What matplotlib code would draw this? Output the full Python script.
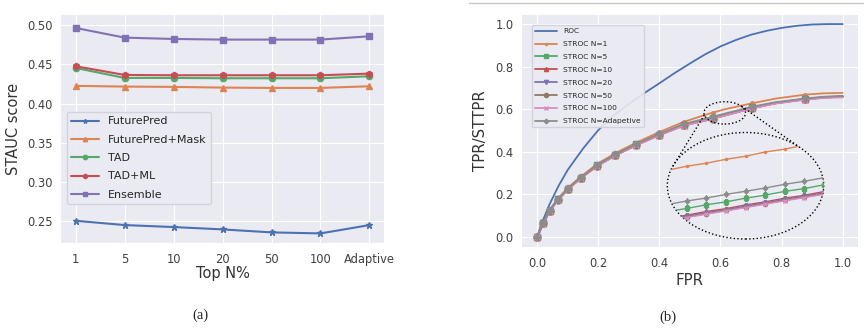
import numpy as np
import matplotlib
matplotlib.use("Agg")
import matplotlib.pyplot as plt
from matplotlib.patches import Ellipse
from matplotlib.lines import Line2D

# (a) STAUC score vs Top N%
top_n = ["1", "5", "10", "20", "50", "100", "Adaptive"]
future_pred = [0.2508, 0.2453, 0.2428, 0.2398, 0.2360, 0.2347, 0.2453]
future_pred_mask = [0.4225, 0.4216, 0.4212, 0.4203, 0.4199, 0.4199, 0.4220]
tad = [0.4453, 0.4326, 0.4326, 0.4322, 0.4322, 0.4322, 0.4347]
tad_ml = [0.4475, 0.4364, 0.4360, 0.4360, 0.4360, 0.4360, 0.4381]
ensemble = [0.4962, 0.4839, 0.4822, 0.4814, 0.4814, 0.4814, 0.4856]

# (b) ROC / STROC curves
roc_fpr = [0.0, 0.01, 0.02, 0.04, 0.07, 0.1, 0.15, 0.2, 0.25, 0.3, 0.35, 0.4, 0.45,
           0.5, 0.55, 0.6, 0.65, 0.7, 0.75, 0.8, 0.85, 0.9, 0.95, 1.0]
roc_tpr = [0.0, 0.045, 0.082, 0.152, 0.24, 0.315, 0.415, 0.502, 0.57, 0.625, 0.675, 0.722, 0.77,
           0.815, 0.858, 0.895, 0.925, 0.95, 0.968, 0.982, 0.992, 0.998, 1.0, 1.0]

stroc_fpr = [0.0, 0.02, 0.041, 0.069, 0.102, 0.143, 0.197, 0.256, 0.325, 0.398, 0.48,
             0.565, 0.57, 0.575, 0.58, 0.585, 0.59, 0.595, 0.60, 0.605, 0.61, 0.615,
             0.703, 0.78, 0.878, 0.94, 1.0]
stroc_n1 = [0, 0.069, 0.128, 0.183, 0.233, 0.284, 0.344, 0.394, 0.444, 0.492, 0.541,
            0.5805, 0.5823, 0.5846, 0.5863, 0.5885, 0.5902, 0.5926, 0.5942, 0.5965, 0.5983, 0.6004,
            0.628, 0.650, 0.669, 0.675, 0.677]
stroc_n5 = [0, 0.065, 0.124, 0.178, 0.228, 0.279, 0.337, 0.386, 0.435, 0.481, 0.528,
            0.5571, 0.5591, 0.5608, 0.5629, 0.5645, 0.5666, 0.5683, 0.5704, 0.5720, 0.5741, 0.5758,
            0.609, 0.631, 0.649, 0.657, 0.661]
stroc_n10 = [0, 0.065, 0.123, 0.177, 0.227, 0.278, 0.336, 0.385, 0.433, 0.479, 0.525,
             0.5533, 0.5553, 0.5570, 0.5591, 0.5607, 0.5628, 0.5645, 0.5666, 0.5682, 0.5703, 0.5720,
             0.606, 0.629, 0.648, 0.656, 0.660]
stroc_n20 = [0, 0.064, 0.123, 0.177, 0.227, 0.277, 0.335, 0.384, 0.432, 0.478, 0.524,
             0.5527, 0.5546, 0.5565, 0.5584, 0.5602, 0.5621, 0.5640, 0.5659, 0.5677, 0.5696, 0.5715,
             0.605, 0.628, 0.647, 0.655, 0.659]
stroc_n50 = [0, 0.064, 0.122, 0.176, 0.226, 0.277, 0.334, 0.384, 0.432, 0.478, 0.524,
             0.5522, 0.5540, 0.5560, 0.5578, 0.5597, 0.5615, 0.5635, 0.5653, 0.5672, 0.5690, 0.5710,
             0.605, 0.628, 0.647, 0.655, 0.659]
stroc_n100 = [0, 0.063, 0.121, 0.175, 0.225, 0.276, 0.333, 0.383, 0.431, 0.477, 0.523,
              0.5519, 0.5538, 0.5557, 0.5576, 0.5594, 0.5613, 0.5632, 0.5651, 0.5669, 0.5688, 0.5707,
              0.604, 0.627, 0.645, 0.653, 0.656]
stroc_adaptive = [0, 0.066, 0.125, 0.179, 0.229, 0.280, 0.338, 0.388, 0.437, 0.483, 0.531,
                  0.5611, 0.5630, 0.5650, 0.5667, 0.5687, 0.5705, 0.5723, 0.5744, 0.5761, 0.5781, 0.5799,
                  0.612, 0.633, 0.651, 0.659, 0.663]

# zoom: small marker ellipse, big inset ellipse (center x, center y, width, height), inset limits
zoom_src = (0.614, 0.583, 0.136, 0.105)
zoom_dst = (0.682, 0.241, 0.512, 0.500)
zoom_xlim = (0.570, 0.610)
zoom_ylim = (0.5436, 0.6036)

plt.style.use("seaborn-v0_8-darkgrid")
plt.rcParams["font.family"] = ["DejaVu Sans"]
c = {"blue": "#4C72B0", "orange": "#DD8452", "green": "#55A868", "red": "#C44E52",
     "purple": "#8172B3", "brown": "#937860", "pink": "#DA8BC3", "gray": "#8C8C8C"}

fig = plt.figure(figsize=(8.64, 3.29), dpi=100)
ax1 = fig.add_axes([0.0706, 0.2614, 0.374, 0.693])
ax2 = fig.add_axes([0.604, 0.249, 0.389, 0.705])

# ---- (a)
x = np.arange(len(top_n))
ax1.plot(x, future_pred, marker="*", ms=4.5, color=c["blue"], label="FuturePred")
ax1.plot(x, future_pred_mask, marker="^", ms=4.5, color=c["orange"], label="FuturePred+Mask")
ax1.plot(x, tad, marker="o", ms=4.5, color=c["green"], label="TAD")
ax1.plot(x, tad_ml, marker="h", ms=4.5, color=c["red"], label="TAD+ML")
ax1.plot(x, ensemble, marker="s", ms=4.5, color=c["purple"], label="Ensemble")
ax1.set_xticks(x)
ax1.set_xticklabels(top_n)
ax1.set_ylim(0.2225, 0.5127)
ax1.set_yticks([0.25, 0.30, 0.35, 0.40, 0.45, 0.50])
ax1.set_yticklabels(["0.25", "0.30", "0.35", "0.40", "0.45", "0.50"])
ax1.tick_params(labelsize=8.3, colors="0.25")
ax1.tick_params(axis="x", pad=7)
ax1.tick_params(axis="y", pad=6)
ax1.set_xlabel("Top N%", fontsize=10.5, color="0.2", labelpad=0.5)
ax1.set_ylabel("STAUC score", fontsize=10.5, color="0.2", labelpad=4)
ax1.legend(loc="lower left", bbox_to_anchor=(0.018, 0.17), borderaxespad=0, fontsize=8,
           frameon=True, facecolor="#EAEAF2", edgecolor="#D0D0D8", framealpha=0.9,
           markerscale=0.7, labelspacing=0.75, handlelength=2.5)

# ---- (b)
series = [
    (stroc_n1, ".", c["orange"], "STROC N=1"),
    (stroc_n5, "s", c["green"], "STROC N=5"),
    (stroc_n10, "^", c["red"], "STROC N=10"),
    (stroc_n20, "v", c["purple"], "STROC N=20"),
    (stroc_n50, "o", c["brown"], "STROC N=50"),
    (stroc_n100, "x", c["pink"], "STROC N=100"),
    (stroc_adaptive, "P", c["gray"], "STROC N=Adapetive"),
]
main_marks = list(range(11)) + [13, 22, 24]

ax2.plot(roc_fpr, roc_tpr, color=c["blue"], lw=1.3, label="ROC")
for vals, mk, col, lab in series:
    ax2.plot(stroc_fpr, vals, marker=mk, ms=5, color=col, lw=1.3, markevery=main_marks, label=lab)

ax2.set_xlim(-0.05, 1.05)
ax2.set_ylim(-0.047, 1.042)
ax2.set_xticks([0.0, 0.2, 0.4, 0.6, 0.8, 1.0])
ax2.set_yticks([0.0, 0.2, 0.4, 0.6, 0.8, 1.0])
ax2.set_xticklabels(["0.0", "0.2", "0.4", "0.6", "0.8", "1.0"])
ax2.set_yticklabels(["0.0", "0.2", "0.4", "0.6", "0.8", "1.0"])
ax2.tick_params(labelsize=8.3, colors="0.25")
ax2.tick_params(axis="x", pad=7.5)
ax2.tick_params(axis="y", pad=6)
ax2.set_xlabel("FPR", fontsize=10.8, color="0.2", labelpad=1.5)
ax2.set_ylabel("TPR/STTPR", fontsize=10.8, color="0.2", labelpad=5)
ax2.legend(loc="upper left", bbox_to_anchor=(0.029, 0.957), borderaxespad=0, fontsize=5.4,
           frameon=True, facecolor="#EAEAF2", edgecolor="#D0D0D8", framealpha=0.9,
           markerscale=0.6, labelspacing=0.88, handlelength=3.0)

# zoom ellipses and connector lines
sx, sy, sw, sh = zoom_src
dx, dy, dw, dh = zoom_dst
ax2.add_patch(Ellipse((sx, sy), sw, sh, fill=False, ls=":", lw=1.0, ec="black", zorder=5))
ax2.add_patch(Ellipse((dx, dy), dw, dh, fill=False, ls=":", lw=1.0, ec="black", zorder=5))
for a_src, a_dst in [(191, 161), (35, 47)]:
    t1, t2 = np.radians(a_src), np.radians(a_dst)
    ax2.plot([sx + sw / 2 * np.cos(t1), dx + dw / 2 * np.cos(t2)],
             [sy + sh / 2 * np.sin(t1), dy + dh / 2 * np.sin(t2)],
             ls=":", lw=1.0, color="black", zorder=5)

axins = ax2.inset_axes([dx - dw / 2, dy - dh / 2, dw, dh], transform=ax2.transData)
axins.axis("off")
clip = Ellipse((0.5, 0.5), 1.0, 1.0, transform=axins.transAxes, fill=False, visible=False)
axins.add_patch(clip)
for vals, mk, col, lab in series:
    ln, = axins.plot(stroc_fpr, vals, marker=mk, ms=3, color=col, lw=1.0)
    ln.set_clip_path(clip)
axins.set_xlim(*zoom_xlim)
axins.set_ylim(*zoom_ylim)

# captions
fig.text(0.2315, 0.042, "(a)", ha="center", va="center", fontsize=10.5, family="Liberation Serif")
fig.text(0.773, 0.036, "(b)", ha="center", va="center", fontsize=10.5, family="Liberation Serif")

# page rule at top right
fig.add_artist(Line2D([469 / 864, 1.0], [1 - 2.7 / 329, 1 - 2.7 / 329], color="#C8C8C8", lw=1.0))

fig.savefig("out.png", dpi=100)
